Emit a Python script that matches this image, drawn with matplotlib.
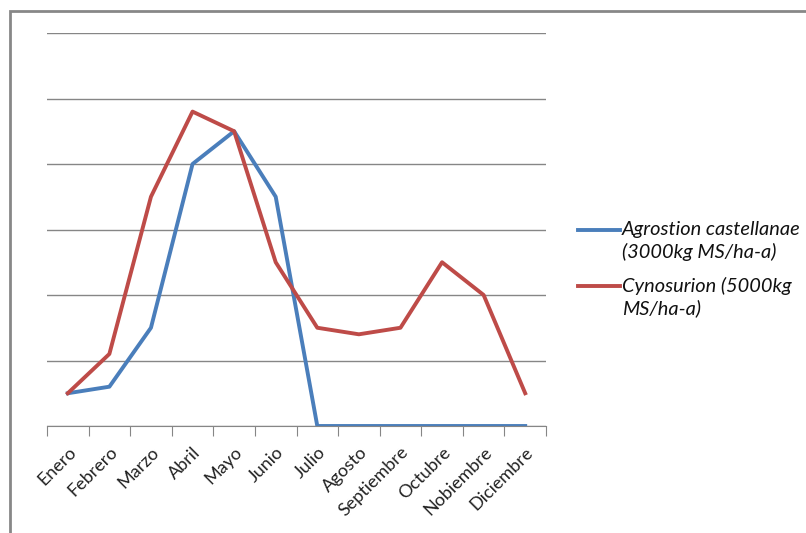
import matplotlib.pyplot as plt
from matplotlib.patches import Rectangle
from matplotlib.lines import Line2D

meses = ["Enero", "Febrero", "Marzo", "Abril", "Mayo", "Junio", "Julio",
         "Agosto", "Septiembre", "Octubre", "Nobiembre", "Diciembre"]
agrostion = [0.5, 0.6, 1.5, 4.0, 4.5, 3.5, 0, 0, 0, 0, 0, 0]
cynosurion = [0.5, 1.1, 3.5, 4.8, 4.5, 2.5, 1.5, 1.4, 1.5, 2.5, 2.0, 0.5]
nombres = ['Agrostion castellanae\n(3000kg MS/ha-a)', 'Cynosurion (5000kg\nMS/ha-a)']
colores = ['#4a7ebb', '#be4b48']

plt.rcParams['font.family'] = ['Lato', 'DejaVu Sans']

W, H = 806, 533
fig = plt.figure(figsize=(W / 100, H / 100), dpi=100)
# outer frame (cut off at right/bottom like the screenshot)
fig.add_artist(Rectangle((10 / W, -0.1), 1.2, 1 - 11 / H + 0.1, transform=fig.transFigure,
                         fill=False, edgecolor='#878787', linewidth=2))

ax = fig.add_axes([47 / W, 1 - 426 / H, (546 - 47) / W, (426 - 33) / H])
x = range(len(meses))
for serie, c in zip([agrostion, cynosurion], colores):
    ax.plot(x, serie, color=c, lw=2.8)

ax.set_xlim(-0.5, 11.5)
ax.set_ylim(0, 6)
ax.set_yticks(range(7))
ax.set_yticklabels([])
ax.tick_params(axis='y', length=0)
ax.grid(axis='y', color='#868686', lw=1)
ax.set_axisbelow(True)
for s in ['top', 'right', 'left']:
    ax.spines[s].set_visible(False)
ax.spines['bottom'].set_color('#868686')

ax.set_xticks([i - 0.5 for i in range(13)], minor=False)
ax.set_xticklabels([])
ax.tick_params(axis='x', which='major', length=7, color='#868686', direction='out')
ax.set_xticks(list(x), minor=True)
ax.set_xticklabels(meses, minor=True, rotation=45, ha='right', rotation_mode='anchor',
                   fontsize=13, color='#222222')
ax.tick_params(axis='x', which='minor', length=0, pad=13)

# legend drawn by hand: handle sits on the first text line, like the original
for i, (nom, c) in enumerate(zip(nombres, colores)):
    yl = 1 - (230 + 56 * i) / H
    fig.add_artist(Line2D([578 / W, 620 / W], [yl, yl], transform=fig.transFigure,
                          color=c, lw=2.8))
    fig.text(622 / W, yl + 9 / H, nom, style='italic', fontsize=14.4, va='top',
             ha='left', color='#111111', linespacing=1.3)

fig.savefig('out.png', dpi=100)
